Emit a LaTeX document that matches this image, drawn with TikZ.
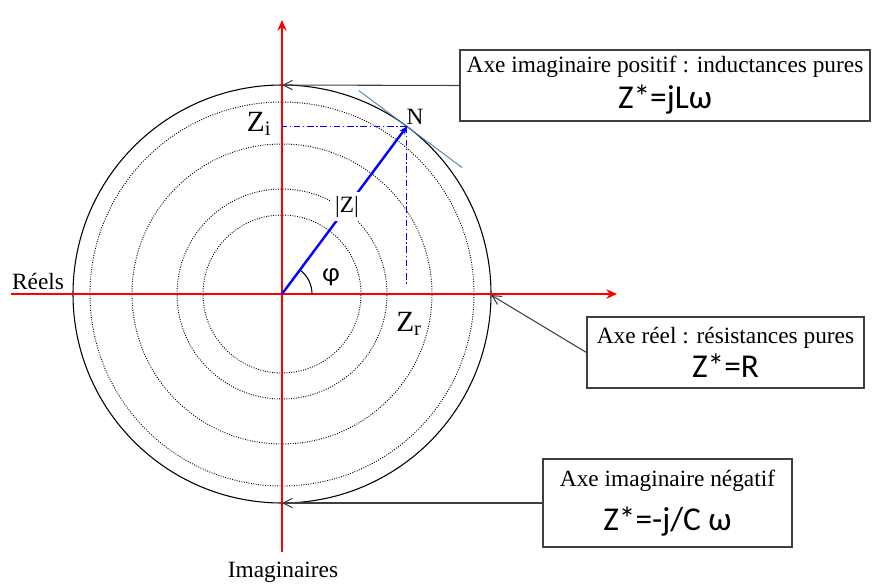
\documentclass[tikz,border=0pt]{standalone}
\usepackage{fontspec}
\setmainfont{Liberation Serif}
\newfontfamily\formfont{Carlito}
\usetikzlibrary{arrows.meta,calc}
\definecolor{axisred}{HTML}{FF0000}
\definecolor{vecblue}{HTML}{0000FF}
\definecolor{tanblue}{HTML}{4F81BD}
\definecolor{boxgray}{HTML}{404040}

\begin{document}
\begin{tikzpicture}[
  x=0.75pt, y=0.75pt,
  axisline/.style={-{Stealth[length=8pt, width=7pt]}, axisred, line width=1.1pt},
  outer/.style={black, line width=0.8pt},
  ringdot/.style={black, line width=0.7pt, dash pattern=on 0.7pt off 1.1pt},
  vector/.style={-{Stealth[length=6pt, width=5pt]}, vecblue, line width=1.8pt},
  proj/.style={vecblue, line width=0.7pt, dash pattern=on 5pt off 2pt on 1pt off 2pt},
  tanline/.style={tanblue, line width=0.7pt},
  callbox/.style={
    rectangle, draw=boxgray, line width=0.8pt, fill=white,
    font=\fontsize{17.5}{21}\selectfont, align=center, inner sep=2pt
  },
  callarr/.style={-{Straight Barb[length=7pt, width=7pt]}, boxgray, line width=0.8pt},
  lbl/.style={font=\fontsize{17.5}{21}\selectfont, inner sep=1pt, text=black},
  bigz/.style={font=\fontsize{22}{26}\selectfont, inner sep=1pt}
]
\useasboundingbox (-282,-289) rectangle (591,294);
\coordinate (O) at (0,0);
\coordinate (N) at (53.3:209);
\coordinate (ctop) at (0,209);
\coordinate (cright) at (209,-1);
\coordinate (cbot) at (0,-209);
\foreach \r in {79,105,150,192}
  \draw[ringdot] (O) circle[radius=\r];
\draw[outer] (O) circle[radius=209];
\draw[axisline] (-271,0) -- (335,0);
\draw[axisline] (0,-258) -- (0,274);
\draw[tanline] (N) ++(143.3:60) -- ++(-36.7:129);
\draw[proj] (N) -- (N -| O);
\draw[proj] (N) -- ($(N |- O)+(0,8)$);
\draw[black, line width=0.8pt] (22.5pt,0) arc[start angle=0, end angle=53.3, radius=22.5pt];
\draw[vector] (O) -- node[pos=0.52, fill=white, lbl, inner sep=3pt] (modz) {|Z|} (N);
\node[lbl] (nlbl) at (133,177) {N};
\node[bigz] (zi) at (-23,170) {Z\textsubscript{i}};
\node[bigz] (zr) at (127,-30) {Z\textsubscript{r}};
\node[lbl, font=\formfont\fontsize{20}{24}\selectfont] (phi) at (49,17) {φ};
\node[lbl] (reels) at (-244,13) {Réels};
\node[lbl] (imag) at (1,-278) {Imaginaires};
\node[callbox, minimum width=307.5pt, minimum height=53.25pt] (pos) at (383,208.5)
  {Axe imaginaire positif : inductances pures\\[4.5pt]{\formfont\fontsize{25}{26}\selectfont Z*=jLω}};
\node[callbox, minimum width=207.75pt, minimum height=53.25pt] (reel) at (443.5,-58.5)
  {Axe réel : résistances pures\\[3pt]{\formfont\fontsize{25}{26}\selectfont Z*=R}};
\node[callbox, minimum width=186.75pt, minimum height=66pt] (neg) at (385.5,-209)
  {Axe imaginaire négatif\\[10pt]{\formfont\fontsize{25}{26}\selectfont Z*=-j/C ω}};
\draw[callarr] (pos.west) -- (ctop);
\draw[callarr] (reel.west) -- (cright);
\draw[callarr] (neg.west) -- (cbot);
\end{tikzpicture}
\end{document}
